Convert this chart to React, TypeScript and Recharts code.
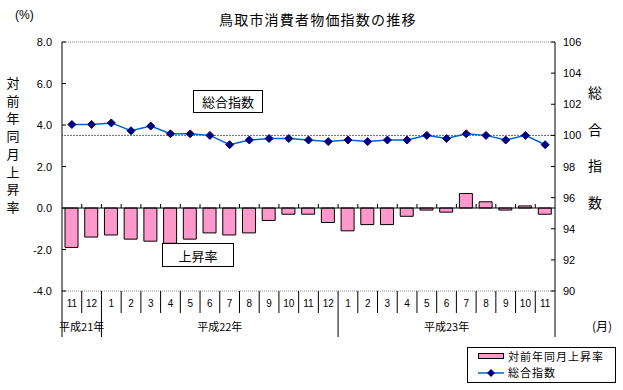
import React from 'react';
import {
  ComposedChart,
  Bar,
  Line,
  XAxis,
  YAxis,
  ReferenceLine,
} from 'recharts';

const months = ['11', '12', '1', '2', '3', '4', '5', '6', '7', '8', '9', '10', '11', '12', '1', '2', '3', '4', '5', '6', '7', '8', '9', '10', '11'];
const rateValues = [-1.9, -1.4, -1.3, -1.5, -1.6, -1.7, -1.5, -1.2, -1.3, -1.2, -0.6, -0.3, -0.3, -0.7, -1.1, -0.8, -0.8, -0.4, -0.1, -0.2, 0.7, 0.3, -0.1, 0.1, -0.3];
const indexValues = [100.7, 100.7, 100.8, 100.3, 100.6, 100.1, 100.1, 100.0, 99.4, 99.7, 99.8, 99.8, 99.7, 99.6, 99.7, 99.6, 99.7, 99.7, 100.0, 99.8, 100.1, 100.0, 99.7, 100.0, 99.4];
const yearSpans = [
  { label: '平成21年', start: 0, end: 2 },
  { label: '平成22年', start: 2, end: 14 },
  { label: '平成23年', start: 14, end: 25 },
];
const leftTicks = [-4, -2, 0, 2, 4, 6, 8];
const rightTicks = [90, 92, 94, 96, 98, 100, 102, 104, 106];

const data = months.map((m, i) => ({ month: m, rate: rateValues[i], index: indexValues[i] }));

const W = 623;
const H = 390;
const PLOT_L = 62;
const PLOT_R = 555;
const PLOT_T = 42;
const PLOT_B = 291;
const plotW = PLOT_R - PLOT_L;
const plotH = PLOT_B - PLOT_T;
const bw = plotW / months.length;
const zeroOffset = plotH * (0 - -4) / 12;

const jp = '"Noto Sans CJK JP", sans-serif';
const num = '"Liberation Sans", Arial, sans-serif';

const MonthTick = (props: any) => {
  const { x, y, payload, index } = props;
  const left = x - bw / 2;
  const span = yearSpans.find((s) => s.start === index);
  const last = index === months.length - 1;
  return (
    <g>
      <line x1={left} y1={y} x2={left} y2={y + (span ? 46 : 22)} stroke="#000" />
      {last && <line x1={left + bw} y1={y} x2={left + bw} y2={y + 46} stroke="#000" />}
      {index > 0 && (
        <line x1={left} y1={y - zeroOffset} x2={left} y2={y - zeroOffset - 4} stroke="#000" />
      )}
      <text x={x} y={y + 16} textAnchor="middle" fontSize={10} fontFamily={num} fill="#000">
        {payload.value}
      </text>
      {span && (
        <text
          x={left + ((span.end - span.start) * bw) / 2}
          y={y + 40}
          textAnchor="middle"
          fontSize={11}
          fontFamily={jp}
          fill="#000"
        >
          {span.label}
        </text>
      )}
    </g>
  );
};

const LeftTick = (props: any) => {
  const { x, y, payload } = props;
  return (
    <g>
      <line x1={x + 10} y1={y} x2={x + 14} y2={y} stroke="#000" />
      <text x={x} y={y + 4} textAnchor="end" fontSize={11} fontFamily={num} fill="#000">
        {payload.value.toFixed(1)}
      </text>
    </g>
  );
};

const RightTick = (props: any) => {
  const { x, y, payload } = props;
  return (
    <g>
      <line x1={x - 8} y1={y} x2={x - 12} y2={y} stroke="#000" />
      <text x={x} y={y + 4} textAnchor="start" fontSize={11} fontFamily={num} fill="#000">
        {payload.value}
      </text>
    </g>
  );
};

const Diamond = (props: any) => {
  const { cx, cy } = props;
  if (cx == null || cy == null) return null;
  return (
    <polygon
      points={`${cx},${cy - 4} ${cx + 4},${cy} ${cx},${cy + 4} ${cx - 4},${cy}`}
      fill="#000080"
      stroke="#000080"
    />
  );
};

const boxStyle: React.CSSProperties = {
  position: 'absolute',
  border: '1px solid #000',
  background: '#fff',
  fontFamily: jp,
  fontSize: 13,
  display: 'flex',
  alignItems: 'center',
  justifyContent: 'center',
  boxSizing: 'border-box',
};

const App: React.FC = () => {
  return (
    <div style={{ position: 'absolute', left: 0, top: 0, width: W, height: H, background: '#fff' }}>
      <ComposedChart
        width={W}
        height={H}
        data={data}
        margin={{ top: PLOT_T, right: W - PLOT_R - 50, bottom: H - PLOT_B - 50, left: PLOT_L - 50 }}
        barSize={13}
      >
        <XAxis
          dataKey="month"
          xAxisId="x"
          height={50}
          axisLine={false}
          tickLine={false}
          tickSize={0}
          tickMargin={0}
          interval={0}
          tick={<MonthTick />}
        />
        <YAxis
          yAxisId="left"
          width={50}
          domain={[-4, 8]}
          ticks={leftTicks}
          tickLine={false}
          tickSize={0}
          tickMargin={10}
          axisLine={{ stroke: '#000' }}
          tick={<LeftTick />}
          allowDataOverflow
        />
        <YAxis
          yAxisId="right"
          orientation="right"
          width={50}
          domain={[90, 106]}
          ticks={rightTicks}
          tickLine={false}
          tickSize={0}
          tickMargin={8}
          axisLine={{ stroke: '#000' }}
          tick={<RightTick />}
          allowDataOverflow
        />
        <ReferenceLine xAxisId="x" yAxisId="left" y={8} stroke="#888" strokeDasharray="1 1" />
        <ReferenceLine xAxisId="x" yAxisId="left" y={-4} stroke="#888" strokeDasharray="1 1" />
        <ReferenceLine xAxisId="x" yAxisId="right" y={100} stroke="#666" strokeDasharray="2 1" />
        <Bar
          xAxisId="x"
          yAxisId="left"
          dataKey="rate"
          fill="#ff99cc"
          stroke="#000"
          strokeWidth={1}
          isAnimationActive={false}
        />
        <ReferenceLine xAxisId="x" yAxisId="left" y={0} stroke="#000" />
        <Line
          xAxisId="x"
          yAxisId="right"
          dataKey="index"
          stroke="#0066cc"
          strokeWidth={1.5}
          dot={<Diamond />}
          activeDot={false}
          isAnimationActive={false}
        />
      </ComposedChart>

      <div style={{ position: 'absolute', left: 219, top: 9, fontFamily: jp, fontSize: 14, letterSpacing: 1.2, whiteSpace: 'nowrap' }}>
        鳥取市消費者物価指数の推移
      </div>
      <div style={{ position: 'absolute', left: 15, top: 8, fontFamily: num, fontSize: 12 }}>(%)</div>
      <div style={{ position: 'absolute', left: 5, top: 74, width: 16, fontFamily: jp, fontSize: 13, lineHeight: '17.7px', textAlign: 'center' }}>
        {'対前年同月上昇率'.split('').map((c, i) => (
          <div key={i}>{c}</div>
        ))}
      </div>
      <div style={{ position: 'absolute', left: 587, top: 74, width: 16, fontFamily: jp, fontSize: 14, lineHeight: '36.7px', textAlign: 'center' }}>
        {'総合指数'.split('').map((c, i) => (
          <div key={i}>{c}</div>
        ))}
      </div>
      <div style={{ position: 'absolute', left: 592, top: 317, fontFamily: jp, fontSize: 12 }}>(月)</div>

      <div style={{ ...boxStyle, left: 193, top: 90, width: 70, height: 23 }}>総合指数</div>
      <div style={{ ...boxStyle, left: 162, top: 243, width: 72, height: 24 }}>上昇率</div>

      <div style={{ ...boxStyle, left: 467, top: 347, width: 149, height: 36, display: 'block', fontSize: 11 }}>
        <div style={{ position: 'absolute', left: 10, top: 5, width: 26, height: 6, background: '#ff99cc', border: '1px solid #000', boxSizing: 'border-box' }} />
        <div style={{ position: 'absolute', left: 40, top: 0, letterSpacing: 1 }}>対前年同月上昇率</div>
        <svg style={{ position: 'absolute', left: 10, top: 20 }} width={28} height={10}>
          <line x1={0} y1={5} x2={26} y2={5} stroke="#0066cc" strokeWidth={1.5} />
          <polygon points="13,1 17,5 13,9 9,5" fill="#000080" />
        </svg>
        <div style={{ position: 'absolute', left: 40, top: 16, letterSpacing: 1 }}>総合指数</div>
      </div>
    </div>
  );
};

export default App;
